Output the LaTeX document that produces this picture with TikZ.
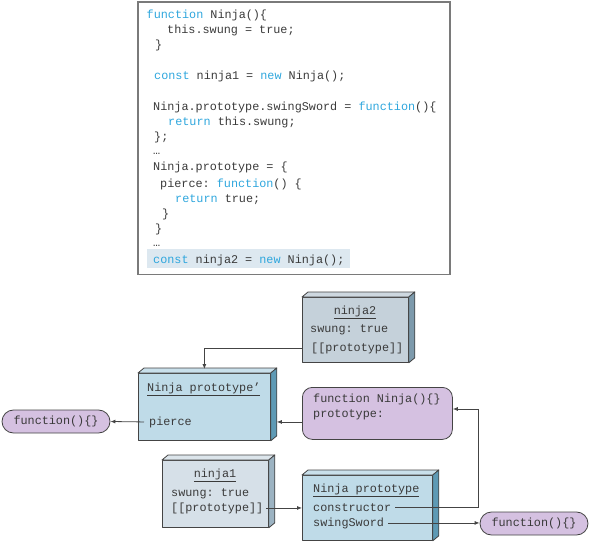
\documentclass[tikz,border=0pt]{standalone}
\usepackage{fontspec}
\newfontfamily\codefont{Liberation Mono}
\usetikzlibrary{calc,arrows.meta}
\frenchspacing
\definecolor{kwblue}{HTML}{2EA6DD}
\definecolor{txtgray}{HTML}{3A3A3A}
\definecolor{framegray}{HTML}{7A7A7A}
\definecolor{hlblue}{HTML}{DDE8F0}
\definecolor{ntwofront}{HTML}{C5D1DA}
\definecolor{ntwoside}{HTML}{7D9AAC}
\definecolor{protofront}{HTML}{BFDBE8}
\definecolor{protoside}{HTML}{5E9AB5}
\definecolor{nonefront}{HTML}{D6E0E8}
\definecolor{noneside}{HTML}{9CB3C2}
\definecolor{purp}{HTML}{D5C1E1}
\definecolor{edgegray}{HTML}{444444}
\newcommand\kw[1]{\textcolor{kwblue}{#1}}
\tikzset{
  codetxt/.style={anchor=base west, inner sep=0pt, text=txtgray, font=\codefont\frenchspacing\fontsize{11.8}{14}\selectfont},
  ctrtxt/.style={anchor=base, inner sep=0pt, text=txtgray, font=\codefont\frenchspacing\fontsize{11.8}{14}\selectfont},
  edge/.style={draw=edgegray, line width=0.8pt, line join=round},
  boxfront/.style={edge, inner sep=0pt, rectangle},
  arr/.style={draw=edgegray, line width=0.8pt, -{Latex[length=5pt,width=4pt]}},
  oval/.style={edge, fill=purp, rounded corners=11.5pt, minimum width=108pt, minimum height=23pt, inner sep=0pt, text=txtgray, font=\codefont\fontsize{11.8}{14}\selectfont},
}
% name, x, y, w, h, front, side
\newcommand\cubebox[7]{%
  \node[boxfront, fill=#6, minimum width=#4pt, minimum height=#5pt, anchor=north west] (#1) at (#2,#3) {};
  \draw[edge, fill=#6!85!white] (#1.north west) -- ++(6,-5) -- ($(#1.north east)+(6,-5)$) -- (#1.north east) -- cycle;
  \draw[edge, fill=#7] (#1.north east) -- ++(6,-5) -- ($(#1.south east)+(6,-5)$) -- (#1.south east) -- cycle;
}
\begin{document}
\begin{tikzpicture}[x=1pt,y=-1pt]
\useasboundingbox (0,0) rectangle (590,543);
% code panel
\node[draw=framegray, line width=1.5pt, minimum width=312pt, minimum height=272pt, anchor=north west, inner sep=0pt] (panel) at (137,1.5) {};
\node[fill=hlblue, minimum width=203pt, minimum height=19pt, anchor=north west, inner sep=0pt] (hl) at (147,249) {};
\node[codetxt] (c1) at (146.5,19) {\kw{function} Ninja()\{};
\node[codetxt] (c2) at (167,34) {this.swung = true;};
\node[codetxt] (c3) at (155,49) {\}};
\node[codetxt] (c4) at (154,80) {\kw{const} ninja1 = \kw{new} Ninja();};
\node[codetxt] (c5) at (153,111) {Ninja.prototype.swingSword = \kw{function}()\{};
\node[codetxt] (c6) at (168,126) {\kw{return} this.swung;};
\node[codetxt] (c7) at (154,141) {\};};
\node[codetxt] (c8) at (153,155) {…};
\node[codetxt] (c9) at (153,171) {Ninja.prototype = \{};
\node[codetxt] (c10) at (160,187) {pierce: \kw{function}() \{};
\node[codetxt] (c11) at (175,202) {\kw{return} true;};
\node[codetxt] (c12) at (162,217) {\}};
\node[codetxt] (c13) at (155,232) {\}};
\node[codetxt] (c14) at (153,246) {…};
\node[codetxt] (c15) at (153,263) {\kw{const} ninja2 = \kw{new} Ninja();};
% boxes
\cubebox{ntwo}{302}{297}{106}{65}{ntwofront}{ntwoside}
\cubebox{npp}{138}{373}{132}{67}{protofront}{protoside}
\cubebox{none}{162}{460}{106}{67}{nonefront}{noneside}
\cubebox{np}{302}{475}{130}{65}{protofront}{protoside}
\node[edge, fill=purp, rounded corners=10pt, minimum width=150pt, minimum height=52pt, anchor=north west, inner sep=0pt] (pur) at (302,387) {};
\node[oval] (fl) at (56,421.5) {function()\{\}};
\node[oval] (fr) at (534,523.5) {function()\{\}};
% texts
\node[ctrtxt] (ntwot) at (355,314) {\underline{ninja2}};
\node[codetxt] (ntwos) at (310,332) {swung: true};
\node[codetxt] (ntwop) at (311,351) {[[prototype]]};
\node[codetxt] (nppt) at (147,391) {\underline{Ninja prototype’}};
\node[codetxt] (pierce) at (149,425) {pierce};
\node[codetxt] (purt) at (313,402) {function Ninja()\{\}};
\node[codetxt] (purp) at (313,417) {prototype:};
\node[ctrtxt] (nonet) at (215,477) {\underline{ninja1}};
\node[codetxt] (nones) at (171,496) {swung: true};
\node[codetxt] (nonep) at (171,511) {[[prototype]]};
\node[codetxt] (npt) at (313,492) {\underline{Ninja prototype}};
\node[codetxt] (ctor) at (313,511) {constructor};
\node[codetxt] (sw) at (313,526) {swingSword};
% connectors
\coordinate (tp) at ($(npp.north)+(0,-4)$);
\draw[arr] (ntwo.west |- ntwop) -| (tp);
\draw[arr] (pur.west |- pierce) -- ($(npp.east |- pierce)+(6,0)$);
\draw[arr] ([xshift=-5pt]pierce.west) -- (fl.east);
\draw[arr] ([xshift=3pt]nonep.east) -- (np.west |- nonep);
\coordinate (cr) at (478,409);
\draw[arr] ([xshift=4pt]ctor.east) -| (cr) -- (pur.east |- cr);
\draw[arr] ([xshift=4pt]sw.east) -- (fr.west |- sw);
\end{tikzpicture}
\end{document}
